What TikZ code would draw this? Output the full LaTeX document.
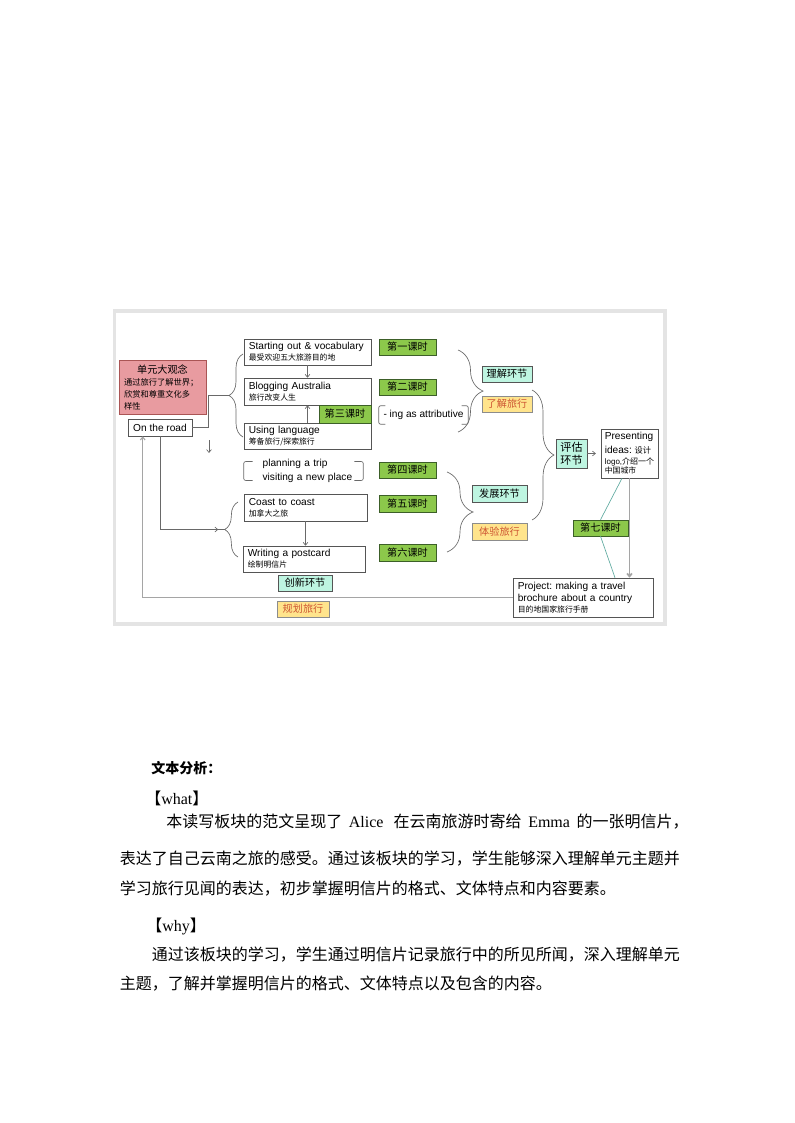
\documentclass[tikz,border=0pt]{standalone}
\usepackage{fontspec}
\setmainfont{Liberation Sans}
\newfontfamily\cjk{Noto Sans CJK SC}
\newfontfamily\latinserif{Liberation Serif}
\usetikzlibrary{positioning}
\usetikzlibrary{arrows.meta}
\usetikzlibrary{calc}
\usetikzlibrary{decorations.pathreplacing}
\usetikzlibrary{decorations.markings}
\frenchspacing

\definecolor{boxline}{RGB}{85,85,85}
\definecolor{linkgray}{RGB}{105,105,105}
\definecolor{pathgray}{RGB}{165,165,165}
\definecolor{framegray}{RGB}{228,228,228}
\definecolor{ideafill}{RGB}{232,155,160}
\definecolor{idealine}{RGB}{170,85,85}
\definecolor{greenfill}{RGB}{140,200,75}
\definecolor{greenline}{RGB}{60,95,40}
\definecolor{mintfill}{RGB}{190,245,225}
\definecolor{yellowfill}{RGB}{255,228,140}
\definecolor{yellowline}{RGB}{140,140,140}
\definecolor{yellowtext}{RGB}{205,85,50}
\definecolor{tealline}{RGB}{95,170,160}

\newcommand{\zh}[1]{{\cjk #1}}
\newcommand{\zhsmall}[1]{{\cjk\fontsize{5.9pt}{7pt}\selectfont #1}}
\newcommand{\en}[1]{{\latinserif #1}}
% square brackets round a node
\newcommand{\brackets}[3]{%
  \draw[link, rounded corners=1.5pt] ([shift={(#2,-#3)}]#1.north west) -- ([yshift=-#3]#1.north west) -- ([yshift=#3]#1.south west) -- ([shift={(#2,#3)}]#1.south west);
  \draw[link, rounded corners=1.5pt] ([shift={(-#2,-#3)}]#1.north east) -- ([yshift=-#3]#1.north east) -- ([yshift=#3]#1.south east) -- ([shift={(-#2,#3)}]#1.south east);}

\begin{document}
\begin{tikzpicture}[x=0.75pt, y=-0.75pt,
    lesson/.style={draw=boxline, fill=white, align=left, text width=88pt, minimum height=19.5pt, inner xsep=3.6pt, inner ysep=1pt, font=\fontsize{7.6pt}{8.2pt}\selectfont},
    period/.style={draw=greenline, fill=greenfill, inner sep=0pt, minimum width=42.75pt, minimum height=12pt, font=\cjk\fontsize{7.6pt}{9pt}\selectfont},
    stage/.style={draw=boxline, fill=mintfill, inner sep=0pt, minimum width=37.5pt, minimum height=12pt, font=\cjk\fontsize{7.6pt}{9pt}\selectfont},
    aim/.style={draw=yellowline, fill=yellowfill, text=yellowtext, inner sep=0pt, minimum width=37.5pt, minimum height=12pt, font=\cjk\fontsize{7.6pt}{9pt}\selectfont},
    link/.style={draw=linkgray, line width=0.5pt},
    arrowed/.style={-{Straight Barb[length=2.2pt,width=3.6pt]}},
    curly/.style={link, decorate, decoration={brace, amplitude=#1}},
    body/.style={anchor=west, inner sep=0pt, font=\cjk\fontsize{12pt}{14pt}\selectfont}]
\useasboundingbox (0,0) rectangle (794,1123);
\draw[framegray, line width=2.5pt] (114.3,311) rectangle (665,624);

% unit idea
\node[draw=idealine, fill=ideafill, align=left, text width=57.75pt, minimum height=40.5pt, inner xsep=3.75pt, inner ysep=1pt, font=\cjk\fontsize{6.2pt}{9pt}\selectfont] (idea) at (162.5,387) {\makebox[57.75pt]{\fontsize{7.6pt}{9pt}\selectfont 单元大观念}\\通过旅行了解世界；\\欣赏和尊重文化多\\样性};
\node[draw=boxline, fill=white, minimum width=48pt, minimum height=12.75pt, inner sep=0pt, font=\fontsize{7.6pt}{9pt}\selectfont] (road) at (160,427.5) {On the road};

% lessons
\node[lesson] (start) at (307.5,352) {Starting out \& vocabulary\\\zhsmall{最受欢迎五大旅游目的地}};
\node[lesson, minimum height=20.25pt] (blog) at (307.5,391.5) {Blogging Australia\\\zhsmall{旅行改变人生}};
\node[lesson] (using) at (307.5,436) {Using language\\\zhsmall{筹备旅行/探索旅行}};
\node[align=left, text width=61.3pt, inner xsep=14pt, inner ysep=0pt, font=\fontsize{7.6pt}{10.5pt}\selectfont] (trip) at (303.5,471) {planning a trip\\visiting~a~new~place};
\node[lesson, text width=85pt, minimum height=20.25pt] (coast) at (305.5,507.5) {Coast to coast\\\zhsmall{加拿大之旅}};
\node[lesson, text width=84.3pt] (postcard) at (304,559) {Writing a postcard\\\zhsmall{绘制明信片}};
\node[minimum width=66.75pt, minimum height=13.5pt, inner sep=0pt, font=\fontsize{7.6pt}{9pt}\selectfont] (ing) at (423.5,415) {- ing as attributive};

% periods
\node[period] (first) at (407.5,347) {第一课时};
\node[period] (second) at (407.5,387) {第二课时};
\node[period, minimum width=39pt, minimum height=13.5pt] (third) at (345,414) {第三课时};
\node[period] (fourth) at (407.5,470) {第四课时};
\node[period, minimum height=12.75pt] (fifth) at (407.5,503.5) {第五课时};
\node[period, minimum height=12.75pt] (sixth) at (407.5,552.5) {第六课时};
\node[period, minimum width=41.25pt] (seventh) at (600.5,528) {第七课时};

% stages and aims
\node[stage] (understand) at (507,374) {理解环节};
\node[aim] (learn) at (507,404) {了解旅行};
\node[stage, minimum width=41.25pt, minimum height=12.75pt] (develop) at (499.5,493.5) {发展环节};
\node[aim, minimum width=41.25pt, minimum height=12.75pt] (experience) at (499.5,531.5) {体验旅行};
\node[stage, minimum width=40.5pt] (create) at (305,583) {创新环节};
\node[aim, minimum width=39pt] (plan) at (303,609) {规划旅行};
\node[stage, align=center, minimum width=23.25pt, minimum height=21.75pt, font=\cjk\fontsize{8.3pt}{10pt}\selectfont] (assess) at (571.5,453.5) {评估\\环节};

% outputs
\node[draw=boxline, fill=white, align=left, inner xsep=3pt, inner ysep=1pt, minimum width=41.25pt, minimum height=36.75pt, font=\fontsize{7.6pt}{8.3pt}\selectfont] (present) at (629.5,453.5) {Presenting\\[2pt]ideas: \zh{\fontsize{6.2pt}{8pt}\selectfont 设计}\\{\fontsize{6pt}{7pt}\selectfont logo,\zh{介绍一个}}\\[-1.2pt]\zhsmall{中国城市}};
\node[lesson, text width=97.8pt, minimum height=29.25pt] (project) at (583,597.5) {Project: making a travel\\[0.9pt]brochure about a country\\\zhsmall{目的地国家旅行手册}};

\brackets{trip}{6.75pt}{1.9pt}
\brackets{ing}{5pt}{0pt}

% braces
\coordinate (lb1) at (229,395.5);
\coordinate (lb2) at (225,529.5);
\coordinate (drop) at (209,440);
\draw[curly=10.5pt] (243,437) -- (243,354);
\draw[curly=10pt] (238,557) -- (238,502);
\draw[curly=18.75pt] (458,350) -- (458,432);
\draw[curly=16.5pt] (532,390) -- (532,520);
\draw[curly=19.5pt] (447,472) -- (447,552);

% connectors
\draw[link] (road.east) -- ++(16,0) |- (lb1);
\draw[link, arrowed] (drop) -- ++(0,13);
\draw[link, arrowed] (start) -- (blog);
\draw[link, arrowed] (using) -- (blog);
\draw[link, arrowed] (coast.south) -- (coast.south |- postcard.north);
\draw[link, postaction={decorate, decoration={markings, mark=at position -5pt with {\arrow{Straight Barb[length=2.2pt,width=3.6pt]}}}}] (road.south) |- (lb2);
\draw[link, arrowed, shorten >=3.5pt] (assess) -- (present);
\draw[pathgray, line width=1.3pt, arrowed] (present.south) -- (present.south |- project.north);
\draw[tealline, line width=0.5pt] ($(present.south)+(-7.5,0)$) -- (seventh.north);
\draw[tealline, line width=0.5pt] (seventh.south) -- ($(project.north)+(32,0)$);
\draw[pathgray, line width=0.8pt, arrowed] (project.west) -| ($(road.south west)+(15,0)$);

% text below
\node[body, font=\cjk\bfseries\fontsize{10.5pt}{12pt}\selectfont] (heading) at (151,768) {文本分析：};
\node[body] (whatlabel) at (145,798) {【\en{what}】};
\node[body] (whatline1) at (166,822) {本读写板块的范文呈现了\hspace{5pt}\en{Alice}\hspace{7.5pt}在云南旅游时寄给\hspace{5pt}\en{Emma}\hspace{5pt}的一张明信片，};
\node[body] (whatline2) at (119.5,859) {表达了自己云南之旅的感受。通过该板块的学习，学生能够深入理解单元主题并};
\node[body] (whatline3) at (119.5,889) {学习旅行见闻的表达，初步掌握明信片的格式、文体特点和内容要素。};
\node[body] (whylabel) at (146,926) {【\en{why}】};
\node[body] (whyline1) at (151.5,955) {通过该板块的学习，学生通过明信片记录旅行中的所见所闻，深入理解单元};
\node[body] (whyline2) at (119.5,984) {主题，了解并掌握明信片的格式、文体特点以及包含的内容。};
\end{tikzpicture}
\end{document}
